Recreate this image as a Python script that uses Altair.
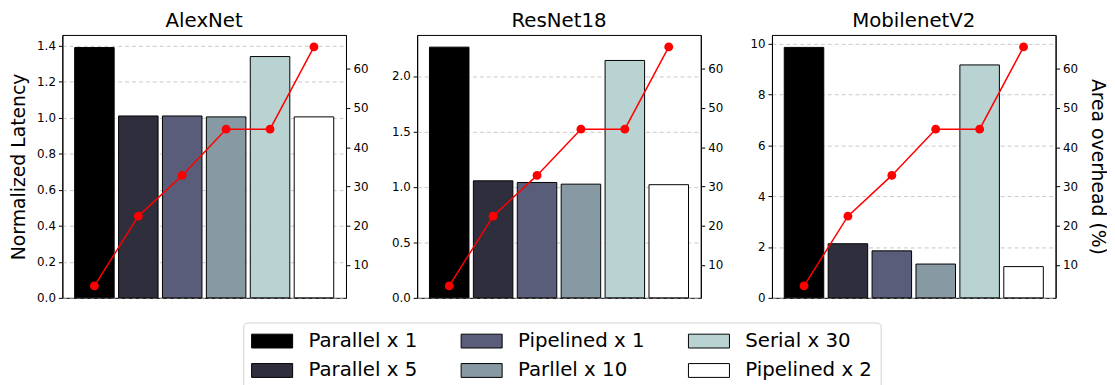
import altair as alt
import pandas as pd

models = ["AlexNet", "ResNet18", "MobilenetV2"]
configs = ["Parallel x 1", "Parallel x 5", "Pipelined x 1", "Parllel x 10", "Serial x 30", "Pipelined x 2"]
colors = ["#000000", "#2f2e3d", "#595d7a", "#879aa3", "#b9d3d3", "#ffffff"]
latency_alexnet = [1.39, 1.01, 1.01, 1.005, 1.34, 1.005]
latency_resnet18 = [2.26, 1.055, 1.04, 1.025, 2.14, 1.02]
latency_mobilenetv2 = [9.86, 2.13, 1.85, 1.33, 9.17, 1.23]
area_overhead = [4.6, 22.4, 32.8, 44.6, 44.6, 65.6]

left_ticks_alexnet = [0, 0.2, 0.4, 0.6, 0.8, 1.0, 1.2, 1.4]
left_ticks_resnet18 = [0, 0.5, 1.0, 1.5, 2.0]
left_ticks_mobilenetv2 = [0, 2, 4, 6, 8, 10]
right_ticks = [10, 20, 30, 40, 50, 60]

FONT = "DejaVu Sans"
rect_path = "M-1,-0.7L3.15,-0.7L3.15,0.7L-1,0.7Z"


def panel(name, lat, ymax, yticks, yfmt, left_title, right_title, show_legend):
    df = pd.DataFrame({"config": configs, "latency": lat, "area": area_overhead})
    x = alt.X("config:N", sort=configs, axis=None,
              scale=alt.Scale(paddingInner=0.1, paddingOuter=0.28))
    if show_legend:
        legend = alt.Legend(
            orient="none", legendX=183, legendY=291, columns=3, title=None,
            symbolType=rect_path, symbolSize=400, symbolStrokeColor="black",
            symbolStrokeWidth=1, symbolOpacity=1, labelFontSize=20, labelFont=FONT,
            labelColor="black", labelOffset=37, columnPadding=41, rowPadding=9,
            strokeColor="#d0d0d0", padding=8, cornerRadius=4, fillColor="white",
        )
    else:
        legend = None
    color = alt.Color("config:N", scale=alt.Scale(domain=configs, range=colors),
                      legend=legend)
    if left_title:
        left_axis = alt.Axis(values=yticks, format=yfmt, grid=True, gridDash=[4, 3],
                             gridColor="#bbbbbb", gridWidth=0.8, title=left_title)
    else:
        left_axis = alt.Axis(values=yticks, format=yfmt, grid=True, gridDash=[4, 3],
                             gridColor="#bbbbbb", gridWidth=0.8, title=None)
    bars = alt.Chart(df).mark_bar(stroke="black", strokeWidth=1, opacity=1).encode(
        x=x,
        y=alt.Y("latency:Q", scale=alt.Scale(domain=[0, ymax], nice=False, zero=True),
                axis=left_axis),
        color=color,
    )
    if right_title:
        right_axis = alt.Axis(orient="right", values=right_ticks, grid=False,
                              title=right_title, titlePadding=10)
    else:
        right_axis = alt.Axis(orient="right", values=right_ticks, grid=False, title=None)
    line = alt.Chart(df).mark_line(
        color="red", strokeWidth=1.5,
        point=alt.OverlayMarkDef(color="red", size=80, filled=True, opacity=1),
    ).encode(
        x=x,
        y=alt.Y("area:Q", scale=alt.Scale(domain=[1.55, 68.65], nice=False, zero=False),
                axis=right_axis),
    )
    return alt.layer(bars, line).resolve_scale(y="independent").properties(
        width=287, height=266,
        title=alt.TitleParams(name),
    )


p1 = panel("AlexNet", latency_alexnet, 1.46, left_ticks_alexnet, ".1f",
           "Normalized Latency", "", True)
p2 = panel("ResNet18", latency_resnet18, 2.37, left_ticks_resnet18, ".1f", "", "", False)
p3 = panel("MobilenetV2", latency_mobilenetv2, 10.35, left_ticks_mobilenetv2, "d",
           "", "Area overhead (%)", False)

chart = alt.hconcat(p1, p2, p3, spacing=72, bounds="flush").configure(
    padding={"left": 1, "top": 0, "right": 0, "bottom": 0}, font=FONT,
).configure_view(
    stroke="black", strokeWidth=1,
).configure_title(
    font=FONT, fontSize=20, fontWeight="normal", color="black", offset=4,
).configure_axis(
    labelFont=FONT, labelFontSize=12, labelColor="black", titleFont=FONT,
    titleFontSize=19, titleFontWeight="normal", titleColor="black",
    domainColor="black", tickColor="black", tickSize=4, labelPadding=3,
    titlePadding=8,
)

chart.save("out.html", embed_options={"renderer": "svg", "actions": False})
